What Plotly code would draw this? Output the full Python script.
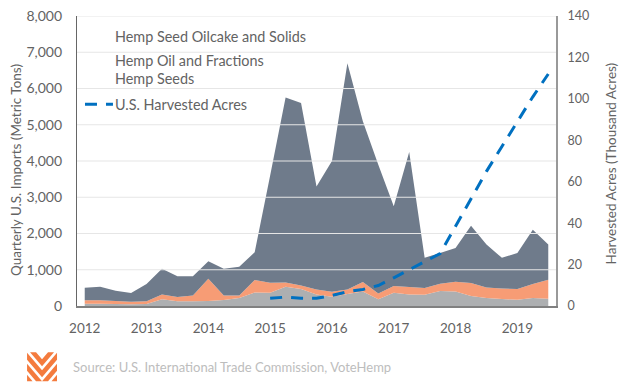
import plotly.graph_objects as go

quarters = [2012 + i / 4 for i in range(31)]
hemp_seeds = [64,64,55,46,55,183,128,128,137,165,220,375,366,531,467,320,256,330,403,183,366,320,311,412,403,275,220,192,174,220,201]
hemp_oil = [92,92,82,73,73,137,119,165,613,128,73,339,275,119,101,138,138,128,256,165,183,202,184,201,265,357,293,293,293,384,522]
oilcake = [348,374,283,238,476,705,577,531,486,732,787,769,2959,5100,5032,2842,3606,6242,4441,3552,2201,3728,833,852,932,1584,1181,843,998,1502,971]
acres = [None]*12 + [3.7,4.3,3.8,3.7,5.1,6.9,8.0,9.9,13.6,17.6,21.3,25.3,38.5,52,65,77,89,101,112]
left_ticks = [0,1000,2000,3000,4000,5000,6000,7000,8000]
right_ticks = [0,20,40,60,80,100,120,140]
year_ticks = list(range(2012, 2020))
legend_labels = ["Hemp Seed Oilcake and Solids", "Hemp Oil and Fractions", "Hemp Seeds", "U.S. Harvested Acres"]
legend_y = [36, 60, 78, 104]

W, H = 624, 385
L, R, T, B = 77, 556.5, 15.5, 306.5
FONT = "Lato"
TXT = "#636363"
px = lambda x: (x - L) / (R - L)
py = lambda y: (B - y) / (B - T)

fig = go.Figure()
for name, vals, col in [("Hemp Seeds", hemp_seeds, "#ADAFB1"),
                        ("Hemp Oil and Fractions", hemp_oil, "#F79C75"),
                        ("Hemp Seed Oilcake and Solids", oilcake, "#6F7B8B")]:
    fig.add_trace(go.Scatter(x=quarters, y=vals, name=name, stackgroup="a", mode="none",
                             fillcolor=col, showlegend=False))
for v in left_ticks[1:]:
    fig.add_trace(go.Scatter(x=[2011.875, 2019.625], y=[v, v], mode="lines",
                             line=dict(color="#E6E6E6", width=1.1), showlegend=False, hoverinfo="skip"))
fig.add_trace(go.Scatter(x=quarters, y=acres, yaxis="y2", mode="lines", name="U.S. Harvested Acres",
                         line=dict(color="#0070C0", width=3, dash="12px,9px"), showlegend=False))

shapes = [dict(type="line", xref="paper", yref="paper", x0=px(85), x1=px(113), y0=py(104), y1=py(104),
               line=dict(color="#0070C0", width=3, dash="12px,9px"))]
polys = [
    [(30,353),(36,353),(42,360),(48,353),(54,353),(42,367)],
    [(27,353.5),(42,371),(57,353.5),(57,360.5),(42,378),(27,360.5)],
    [(27,364.5),(42,382),(36,382),(27,371.5)],
    [(57,364.5),(42,382),(48,382),(57,371.5)],
    [(27,375.5),(32.5,382),(27,382)],
    [(57,375.5),(51.5,382),(57,382)],
]
for p in polys:
    path = "M " + " L ".join(f"{px(x):.5f},{py(y):.5f}" for x, y in p) + " Z"
    shapes.append(dict(type="path", path=path, xref="paper", yref="paper", fillcolor="#F47B3E", line=dict(width=0)))

ann = [dict(text=t, x=px(113.5), y=py(y), xref="paper", yref="paper", showarrow=False, xanchor="left",
            yanchor="middle", font=dict(family=FONT, size=14.4, color=TXT))
       for t, y in zip(legend_labels, legend_y)]
ann.append(dict(text="Source: U.S. International Trade Commission, VoteHemp", x=px(70.5), y=py(368), xref="paper", yref="paper",
                showarrow=False, xanchor="left", yanchor="middle", font=dict(family=FONT, size=13, color="#BDBDBD")))
ann.append(dict(text="Quarterly U.S. Imports (Metric Tons)", x=px(16), y=py(170), xref="paper", yref="paper", textangle=-90,
                xanchor="center", yanchor="middle", showarrow=False, font=dict(family=FONT, size=13.5, color=TXT)))
ann.append(dict(text="Harvested Acres (Thousand Acres)", x=px(612), y=py(163), xref="paper", yref="paper", textangle=-90,
                xanchor="center", yanchor="middle", showarrow=False, font=dict(family=FONT, size=13.5, color=TXT)))

fig.update_layout(
    width=W, height=H, autosize=False, paper_bgcolor="white", plot_bgcolor="white",
    margin=dict(l=L, r=W - R, t=T, b=H - B, pad=0), showlegend=False, shapes=shapes, annotations=ann,
    xaxis=dict(range=[2011.875, 2019.625], tickvals=year_ticks, tickformat="d", showgrid=False, zeroline=False,
               showline=True, linecolor="#808080", linewidth=1.5, ticks="", ticklen=0, automargin=False,
               ticklabelstandoff=9, tickfont=dict(family=FONT, size=13.5, color=TXT)),
    yaxis=dict(range=[0, 8000], tickvals=left_ticks, tickformat=",d", showgrid=False, zeroline=False,
               showline=True, linecolor="#666666", linewidth=1.3, ticks="", automargin=False,
               ticklabelstandoff=11, tickfont=dict(family=FONT, size=14, color=TXT)),
    yaxis2=dict(range=[0, 140], tickvals=right_ticks, overlaying="y", side="right", showgrid=False, zeroline=False,
                showline=True, linecolor="#999999", linewidth=2, ticks="", automargin=False,
                ticklabelstandoff=7, tickfont=dict(family=FONT, size=12.5, color=TXT)),
)
fig.write_html("out.html", config={"displayModeBar": False}, post_script="document.body.style.margin='0';")
